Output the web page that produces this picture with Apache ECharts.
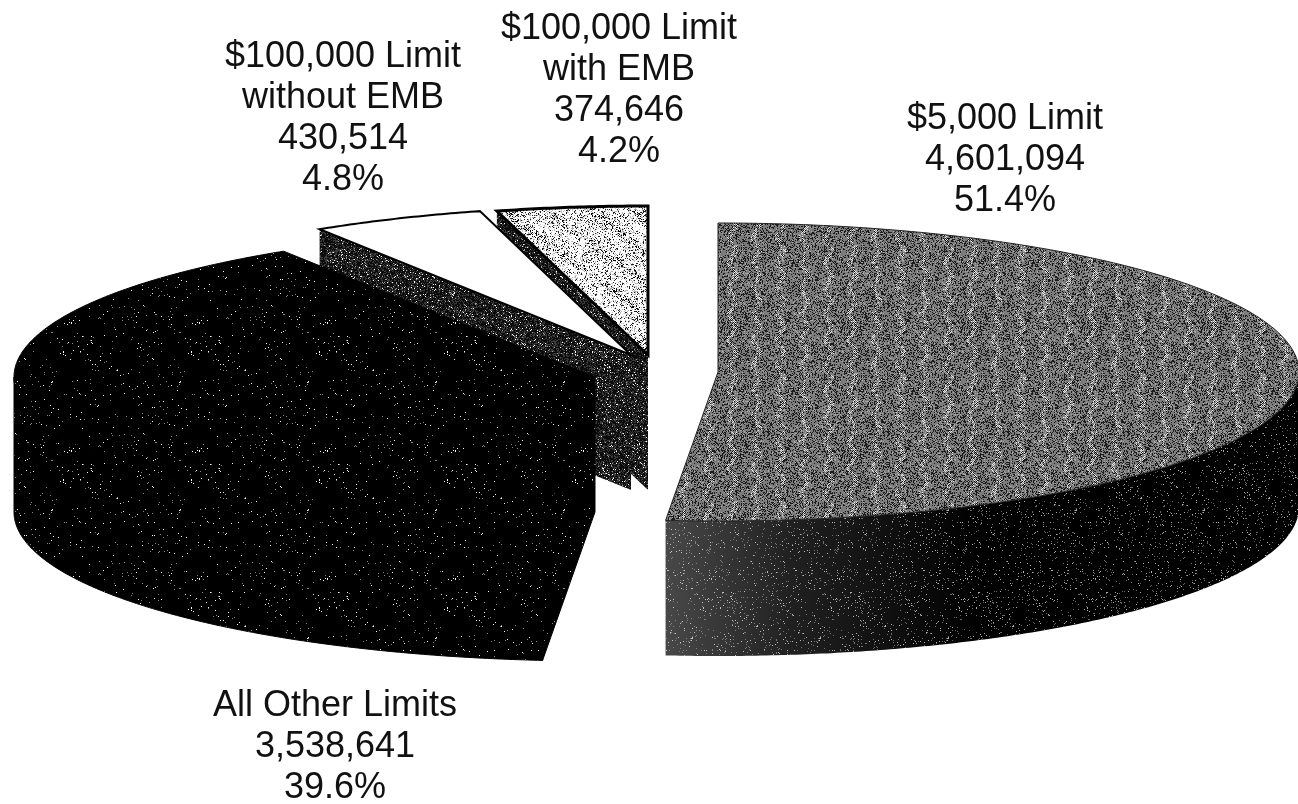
<!DOCTYPE html>
<html><head><meta charset="utf-8">
<style>html,body{margin:0;padding:0;background:#fff}#c{width:1298px;height:804px}</style>
<script src="https://cdn.jsdelivr.net/npm/echarts@6/dist/echarts.min.js"></script>
</head><body><div id="c"></div>
<script>
const categories = ['$5,000 Limit', 'All Other Limits', '$100,000 Limit\nwithout EMB', '$100,000 Limit\nwith EMB'];
const counts = [4601094, 3538641, 430514, 374646];
const countLabels = ['4,601,094', '3,538,641', '430,514', '374,646'];
const shareLabels = ['51.4%', '39.6%', '4.8%', '4.2%'];

// layout only
const centers = [[718, 372], [595, 377], [631, 355], [648, 355]];
const labelAnchors = [[1005, 160], [335, 747], [343, 119], [619, 91]];
const RX = 581, RY = 149, DEPTH = 135;

function dither(w, h, fn) {
  const c = document.createElement('canvas'); c.width = w; c.height = h;
  const g = c.getContext('2d');
  let s = 12345;
  for (let y = 0; y < h; y++) for (let x = 0; x < w; x++) {
    s = (s * 1103515245 + 12345) & 0x7fffffff;
    const col = fn(x, y, (s >>> 8) % 1000 / 1000);
    if (col) { g.fillStyle = col; g.fillRect(x, y, 1, 1); }
  }
  return c;
}
const pat = (c) => ({ image: c, repeat: 'repeat' });
const texTop5k = dither(120, 128, (x, y, r) => {
  const wob = 3 * Math.sin(2 * Math.PI * y * 5 / 128);
  const m = ((x + wob) % 24 + 24) % 24;
  const d = Math.abs(m - 12);
  const chk = (x + y) % 2 === 0;
  if (d < 2.5 && r < 0.45) return chk ? '#e8e8e8' : '#111111';
  if (r < 0.3) return '#1c1c1c';
  if (r < 0.9) return '#7c7c7c';
  return '#a8a8a8';
});
const texBlack = dither(128, 128, (x, y, r) => r < 0.018 ? (r < 0.007 ? '#ffffff' : '#888888') : '#000000');
const texDark = dither(128, 128, (x, y, r) => r < 0.08 ? (r < 0.035 ? '#ffffff' : '#999999') : (r < 0.4 ? '#3a3a3a' : '#0c0c0c'));
const texSpeck = dither(128, 128, (x, y, r) => r < 0.05 ? (r < 0.02 ? 'rgba(255,255,255,.9)' : 'rgba(170,170,170,.8)') : null);
const texLight = dither(128, 128, (x, y, r) => {
  const band = Math.sin((x - y * 1.35) / 7) > 0.72;
  if (band && r < 0.45) return r < 0.2 ? '#000000' : '#aaaaaa';
  return r < 0.14 ? '#222222' : r < 0.3 ? '#bbbbbb' : '#ffffff';
});

const total = counts.reduce((a, b) => a + b, 0);
const spans = []; let acc = 0;
counts.forEach(v => { const a0 = acc; acc += v / total * 360; spans.push([a0, acc]); });

const styleTop = [
  { fill: pat(texTop5k), stroke: '#222', lineWidth: 1 },
  { fill: pat(texBlack), stroke: '#000', lineWidth: 1 },
  { fill: '#ffffff', stroke: '#000', lineWidth: 2 },
  { fill: pat(texLight), stroke: '#000', lineWidth: 3 }
];

function rim(c, t) { const a = t * Math.PI / 180; return [c[0] + RX * Math.sin(a), c[1] - RY * Math.cos(a)]; }
function arcPts(c, a, b, down) {
  const pts = [], n = Math.max(2, Math.ceil(Math.abs(b - a) / 0.5));
  for (let i = 0; i <= n; i++) { const p = rim(c, a + (b - a) * i / n); pts.push([p[0], p[1] + (down || 0)]); }
  return pts;
}

function renderItem(params, api) {
  const i = api.value(0), c = centers[i], [a0, a1] = spans[i];
  const kids = [];
  // cut wall at the start edge, when it faces the viewer
  if (Math.sin(a0 * Math.PI / 180) < -1e-6) {
    const p = rim(c, a0);
    kids.push({ type: 'polygon', shape: { points: [c, p, [p[0], p[1] + DEPTH], [c[0], c[1] + DEPTH]] },
      style: i === 1 ? { fill: pat(texBlack), stroke: '#000', lineWidth: 1 } : { fill: pat(texDark) } });
  }
  // outer wall, front half only
  const f0 = Math.max(a0, 90), f1 = Math.min(a1, 270);
  if (f1 > f0) {
    const top = arcPts(c, f0, f1, 0), bot = arcPts(c, f1, f0, DEPTH);
    const pts = top.concat(bot);
    if (i === 0) {
      kids.push({ type: 'polygon', shape: { points: pts }, style: { fill: {
        type: 'linear', x: 1, y: 0, x2: 0, y2: 0,
        colorStops: [{ offset: 0, color: '#000' }, { offset: 0.5, color: '#000' }, { offset: 0.8, color: '#202020' }, { offset: 1, color: '#484848' }] } } });
      kids.push({ type: 'polygon', shape: { points: pts }, style: { fill: pat(texSpeck), opacity: 0.75 } });
    } else {
      kids.push({ type: 'polygon', shape: { points: pts }, style: { fill: pat(texBlack), stroke: '#000', lineWidth: 1 } });
    }
  }
  // top face
  kids.push({ type: 'polygon', shape: { points: [c].concat(arcPts(c, a0, a1, 0)) }, style: styleTop[i] });
  // label
  kids.push({ type: 'text', x: labelAnchors[i][0], y: labelAnchors[i][1], style: {
    x: 0, y: 0, align: 'center', verticalAlign: 'middle',
    text: [categories[i], countLabels[i], shareLabels[i]].join('\n'),
    font: '36px "Liberation Sans", Arial, sans-serif', lineHeight: 41, fill: '#111111' } });
  return { type: 'group', children: kids };
}

const chart = echarts.init(document.getElementById('c'), null, { renderer: 'canvas' });
chart.setOption({
  animation: false,
  backgroundColor: '#ffffff',
  series: [{ type: 'custom', coordinateSystem: 'none', renderItem, data: [[3], [2], [1], [0]], silent: true, clip: false }]
});
</script></body></html>
